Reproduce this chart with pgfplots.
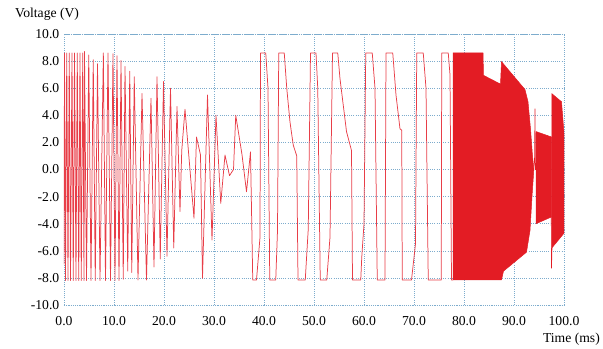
\documentclass[border=0pt]{standalone}
\usepackage{fontspec}
\setmainfont{Liberation Serif}
\usepackage{pgfplots}
\pgfplotsset{compat=1.18}
\definecolor{sig}{RGB}{227,28,36}
\definecolor{sigl}{RGB}{232,62,72}
\definecolor{gridc}{RGB}{125,172,205}
\begin{document}
\fontsize{13.7}{16}\selectfont
\begin{tikzpicture}
\useasboundingbox (-64bp,-44bp) rectangle (539bp,305bp);
\begin{axis}[
 at={(0,0)}, anchor=south west,
 scale only axis, width=500bp, height=271bp,
 xmin=0, xmax=100, ymin=-10, ymax=10,
 xtick={0,10,...,100}, ytick={-10,-8,...,10},
 xticklabels={0.0,10.0,20.0,30.0,40.0,50.0,60.0,70.0,80.0,90.0,100.0},
 yticklabels={-10.0,-8.0,-6.0,-4.0,-2.0,0.0,2.0,4.0,6.0,8.0,10.0},
 grid=major,
 major grid style={gridc, line width=0.6pt, dash pattern=on 1pt off 1.2pt},
 axis line style={gridc, line width=0.6pt, dash pattern=on 1pt off 1.2pt},
 tick style={draw=none},
 tick label style={font=\fontsize{13.7}{16}\selectfont},
 xticklabel style={yshift=-7bp},
]
\addplot[sigl, line width=0.75pt, line join=round] coordinates {
(0,-7.0) (0.1,8.6) (0.3,-8.2) (0.55,8.6) (0.8,-8.2) (1.05,8.6) (1.3,-8.2) (1.6,8.6) (1.85,-8.2) (2.1,8.6) (2.4,-8.2) (2.65,8.6) (2.95,-8.2) (3.2,8.6) (3.45,-8.2) (3.75,8.6) (4.0,-8.2) (4.1,8.7) (4.5,-8.2) (4.95,8.45) (5.4,-8.2) (5.85,8.1) (6.25,-8.2) (6.7,7.8) (7.2,-8.2) (7.87,8.6) (8.3,-8.2) (8.8,8.6) (9.3,-8.2) (9.8,8.55) (10.2,-8.2) (10.6,8.4) (11.0,-8.2) (11.4,8.05) (11.85,-8.1) (12.2,7.6) (12.75,-7.5) (13.15,7.25) (13.55,-7.6) (14.05,6.85) (14.8,-8.15) (15.6,5.6) (16.5,-8.15) (17.4,5.25) (18.0,-7.2) (18.6,6.85) (19.25,-6.6) (19.9,6.5) (20.6,-6.4) (21.3,6.0) (21.95,-5.8) (22.6,4.65) (23.2,-3.1) (23.55,1.4) (24.2,4.45) (24.9,1.3) (26.0,-3.6) (26.5,2.4) (27.3,1.07) (27.7,-8.03) (28.7,5.5) (29.0,2.0) (29.6,-5.2) (30.4,4.0) (31.35,-2.5) (32.2,1.07) (33.1,-0.45) (33.9,0) (34.35,4.0) (35.6,1.1) (36.5,-1.64) (37.3,1.3) (37.75,-8.15)
(38.5,-8.15) (39.2,-5.0) (39.3,8.6) (40.35,8.6) (40.8,6.0) (41.15,-8.15) (42.35,-8.15) (42.7,-4.5) (42.95,8.6) (44.05,8.6) (44.55,6.0) (45.2,3.5) (45.85,1.8) (46.55,1.0) (46.8,-8.15) (48.25,-8.15) (48.85,-4.4) (49.3,8.6) (50.4,8.6) (50.75,6.0) (51.25,-8.15) (52.55,-8.15) (53.2,-5.0) (53.7,8.6) (54.75,8.6) (55.2,6.7) (56.5,2.8) (57.5,1.4) (57.7,-8.15) (59.35,-8.15) (59.55,-6.5) (60.0,-4.0) (60.35,8.6) (61.65,8.6) (62.2,6.0) (62.65,-8.15) (64.2,-8.15) (64.4,8.6) (65.75,8.6) (66.4,5.5) (67.2,3.0) (67.55,2.9) (67.65,-8.15) (69.5,-8.15) (70.3,-5.5) (70.55,8.6) (71.85,8.6) (72.4,6.0) (72.85,-8.15) (75.45,-8.15) (75.55,8.6) (76.85,8.6) (77.2,7.0) (77.5,-8.15) (77.8,-8.15)
};
\addplot[sig, fill=sig, line width=0.5pt] coordinates {
(77.8,-8.15) (77.8,8.6) (83.8,8.6) (83.9,6.95) (87.3,6.3) (87.5,7.96) (92.2,5.9) (92.8,5.0) (93.3,3.0) (93.7,1.0) (93.95,0.1)
(93.95,-0.1) (93.6,-2.0) (93.2,-4.5) (92.5,-6.1) (87.9,-7.5) (87.5,-8.15)
} -- cycle;
\addplot[sig, fill=sig, line width=0.5pt] coordinates {
(94.4,-4.0) (94.4,2.8) (97.5,2.4) (97.5,-3.5)
} -- cycle;
\addplot[sig, fill=sig, line width=0.5pt] coordinates {
(97.55,-5.8) (97.55,5.6) (99.5,5.0) (100.0,2.7) (100.0,-4.7)
} -- cycle;
\addplot[sig, line width=0.6pt] coordinates {
(93.95,0) (94.1,0.5) (94.2,4.5) (94.3,0) (94.4,0)
};
\addplot[sig, line width=0.6pt] coordinates {
(97.45,-3.5) (97.5,-7.3) (97.6,-5.8)
};
\end{axis}
\node[anchor=west, inner sep=0pt] at (-49bp,291bp) {Voltage (V)};
\node[anchor=east, inner sep=0pt] at (536bp,-34bp) {Time (ms)};
\end{tikzpicture}
\end{document}
